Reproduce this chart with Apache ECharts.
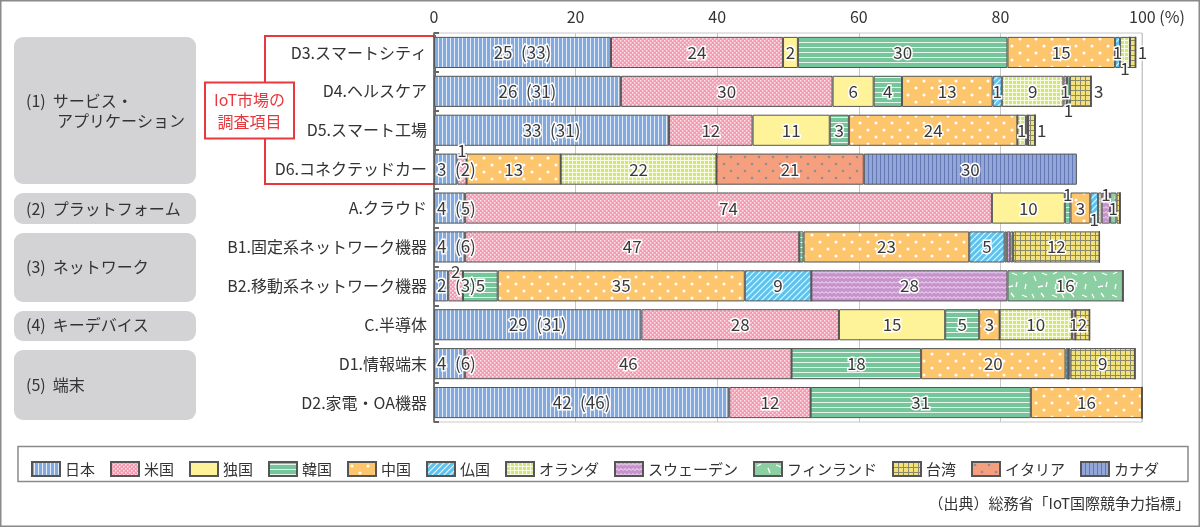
<!DOCTYPE html>
<html><head><meta charset="utf-8">
<script src="https://cdn.jsdelivr.net/npm/echarts@6/dist/echarts.min.js"></script>
<style>html,body{margin:0;padding:0;background:#fff}#c{width:1200px;height:527px}</style>
</head><body><div id="c"></div>
<script>
// ---- data ----
const categories = ['D3.スマートシティ','D4.ヘルスケア','D5.スマート工場','D6.コネクテッドカー','A.クラウド','B1.固定系ネットワーク機器','B2.移動系ネットワーク機器','C.半導体','D1.情報端末','D2.家電・OA機器'];
const japan       = [25.0, 26.4, 33.2, 3.3, 4.4, 4.4, 2.0, 29.3, 4.4, 41.7];
const japanPrev   = [33, 31, 31, 2, 5, 6, 3, 31, 6, 46];
const usa         = [24.3, 29.9, 11.8, 1.3, 74.4, 47.2, 2.1, 27.9, 46.1, 11.5];
const germany     = [2.1, 5.8, 10.9, 0, 10.3, 0, 0, 15.0, 0, 0];
const korea       = [29.6, 4.0, 2.7, 0, 0.8, 0.6, 4.9, 4.8, 18.3, 31.1];
const china       = [15.2, 12.8, 23.8, 13.3, 2.8, 23.4, 34.9, 2.9, 20.4, 15.7];
const france      = [0.7, 1.3, 0, 0, 1.1, 5.0, 9.4, 0, 0.4, 0];
const netherlands = [1.4, 8.7, 1.2, 22.0, 0.5, 0.3, 0, 10.2, 0, 0];
const sweden      = [0, 0.5, 0.3, 0, 1.2, 0.5, 27.7, 0.5, 0, 0];
const finland     = [0, 0.4, 0, 0, 0.9, 0.4, 16.3, 0, 0.3, 0];
const taiwan      = [0.8, 3.0, 1.0, 0, 0.5, 12.2, 0, 2.0, 9.1, 0];
const italy       = [0, 0, 0, 20.8, 0, 0, 0, 0, 0, 0];
const canada      = [0, 0, 0, 30.1, 0, 0, 0, 0, 0, 0];
const seriesNames = ['日本','米国','独国','韓国','中国','仏国','オランダ','スウェーデン','フィンランド','台湾','イタリア','カナダ'];
const xTicks = [0, 20, 40, 60, 80, 100];

// ---- patterns ----
function pat(w, h, bg, draw) {
  const c = document.createElement('canvas'); c.width = w; c.height = h;
  const g = c.getContext('2d'); g.fillStyle = bg; g.fillRect(0, 0, w, h);
  if (draw) draw(g);
  return { image: c, repeat: 'repeat' };
}
const patterns = [
  pat(4, 4, '#82aadf', g => { g.fillStyle = '#e3ecf8'; g.fillRect(2, 0, 1, 4); }),
  pat(4, 4, '#f59ab1', g => { g.fillStyle = '#fde3ea'; g.fillRect(0, 0, 1.5, 1.5); g.fillRect(2, 2, 1.5, 1.5); }),
  '#fff39a',
  pat(5, 5, '#76c69c', g => { g.fillStyle = '#e6f5ec'; g.fillRect(0, 2, 5, 1); }),
  pat(16, 14, '#fdc66c', g => { g.fillStyle = '#ffffff'; g.beginPath(); g.arc(4, 4, 1.5, 0, 7); g.fill(); g.beginPath(); g.arc(12, 11, 1.5, 0, 7); g.fill(); }),
  pat(6, 6, '#5cc3ee', g => { g.strokeStyle = '#e4f6fd'; g.lineWidth = 1.2; g.beginPath(); g.moveTo(0, 6); g.lineTo(6, 0); g.moveTo(-3, 3); g.lineTo(3, -3); g.moveTo(3, 9); g.lineTo(9, 3); g.stroke(); }),
  pat(4, 4, '#d3e676', g => { g.fillStyle = '#f7fbe3'; g.fillRect(0, 0, 4, 1); g.fillRect(0, 0, 1, 4); }),
  pat(8, 5, '#c693cd', g => { g.strokeStyle = '#f5e8f6'; g.lineWidth = 1; g.beginPath(); g.moveTo(0, 3.5); g.lineTo(2, 1.5); g.lineTo(4, 3.5); g.lineTo(6, 1.5); g.lineTo(8, 3.5); g.stroke(); }),
  pat(30, 30, '#8ccfa3', g => { g.strokeStyle = '#ffffff'; g.lineWidth = 1.3; g.beginPath();
    [[3,4,7,2],[14,6,16,11],[22,3,27,5],[6,14,5,19],[18,17,23,16],[27,12,26,17],[2,25,7,27],[12,24,14,28],[21,23,24,27]].forEach(s => { g.moveTo(s[0], s[1]); g.lineTo(s[2], s[3]); });
    g.stroke(); }),
  pat(5, 5, '#f3e27a', g => { g.fillStyle = '#8b8a6c'; g.fillRect(0, 0, 5, 1); g.fillRect(0, 0, 1, 5); }),
  pat(14, 14, '#f59f7e', g => { g.fillStyle = '#8e8f93'; g.beginPath(); g.arc(3, 3, 1.3, 0, 7); g.fill(); g.beginPath(); g.arc(10, 10, 1.3, 0, 7); g.fill(); }),
  pat(4, 4, '#93a6d8', g => { g.fillStyle = '#6479b3'; g.fillRect(0, 0, 1, 4); })
];
const values = [japan, usa, germany, korea, china, france, netherlands, sweden, finland, taiwan, italy, canada];

// label overrides: [seriesIndex, catIndex] -> position / distance
const labelOverrides = {
  '1|3': { position: 'top', distance: -5 },
  '1|6': { position: 'top', distance: -10 },
  '5|0': { position: 'inside' },
  '6|0': { position: 'bottom', distance: -8 },
  '9|0': { position: 'right', distance: 2 },
  '5|1': { position: 'inside' },
  '7|1': { position: 'inside' },
  '8|1': { position: 'bottom', distance: -5 },
  '9|1': { position: 'right', distance: 3 },
  '6|2': { position: 'inside' },
  '9|2': { position: 'right', distance: 2 },
  '3|4': { position: 'top', distance: -11 },
  '5|4': { position: 'bottom', distance: -13 },
  '7|4': { position: 'top', distance: -11 },
  '8|4': { position: 'inside' },
  '7|7': { position: 'inside' }
};
const labelBase = { color: '#3a3a3a', fontSize: 17, fontFamily: 'Noto Sans CJK JP', textBorderColor: '#fff', textBorderWidth: 3 };

const series = seriesNames.map((name, si) => ({
  name, type: 'bar', stack: 'total', barWidth: '80%',
  itemStyle: { color: patterns[si], borderColor: '#555', borderWidth: 1 },
  emphasis: { disabled: true },
  data: values[si].map((v, ci) => {
    const key = si + '|' + ci;
    let label = { show: false };
    if (si === 0) {
      const small = v < 10;
      label = Object.assign({}, labelBase, { show: true, position: small ? 'insideLeft' : 'inside', distance: 3,
        formatter: Math.round(v) + '\u2002(' + japanPrev[ci] + ')' });
    } else if (labelOverrides[key]) {
      label = Object.assign({}, labelBase, { show: true, formatter: String(Math.max(1, Math.round(v))) }, labelOverrides[key]);
    } else if (v >= 1.5) {
      label = Object.assign({}, labelBase, { show: true, position: 'inside', formatter: String(Math.round(v)) });
    }
    return { value: v, label };
  })
}));

const txt = (x, y, s, extra) => ({ type: 'text', x, y, style: Object.assign({ text: s, fill: '#333', fontSize: 16, fontFamily: 'Noto Sans CJK JP', textVerticalAlign: 'middle' }, extra || {}) });
const box = (x, y, w, h) => ({ type: 'rect', shape: { x, y, width: w, height: h, r: 9 }, style: { fill: '#d3d3d5' } });

const chart = echarts.init(document.getElementById('c'));
chart.setOption({
  animation: false,
  backgroundColor: '#fff',
  grid: { left: 434, right: 58, top: 33, bottom: 105, show: true, borderColor: '#c8c8c8', borderWidth: 1 },
  xAxis: {
    type: 'value', position: 'top', min: 0, max: 100, interval: 20,
    axisLine: { show: false }, axisTick: { show: false },
    splitLine: { lineStyle: { color: '#c8c8c8', width: 1 } },
    axisLabel: { color: '#333', fontSize: 16, fontFamily: 'Noto Sans CJK JP', margin: 8,
      formatter: v => v === 100 ? '{p|' + xTicks[5] + ' (%)}' : String(v),
      rich: { p: { fontSize: 16, color: '#333', fontFamily: 'Noto Sans CJK JP', padding: [0, 0, 0, 30] } } }
  },
  yAxis: {
    type: 'category', data: categories, inverse: true,
    axisLine: { show: true, lineStyle: { color: '#555', width: 1.5 } },
    axisTick: { show: true, inside: true, length: 5, lineStyle: { color: '#666', width: 2 } },
    axisLabel: { color: '#333', fontSize: 16, fontFamily: 'Noto Sans CJK JP', margin: 7 }
  },
  legend: {
    data: seriesNames, left: 26, top: 456, icon: 'rect', itemWidth: 28, itemHeight: 14, itemGap: 15,
    textStyle: { color: '#333', fontSize: 15, fontFamily: 'Noto Sans CJK JP' }, selectedMode: false
  },
  series,
  graphic: [
    { type: 'rect', shape: { x: 0.75, y: 0.75, width: 1198.5, height: 525.5 }, style: { fill: 'none', stroke: '#8a8a8a', lineWidth: 1.5 } },
    box(14, 37, 182, 147), box(14, 193, 182, 31), box(14, 233, 182, 69), box(14, 311, 182, 30), box(14, 350, 182, 70),
    txt(26, 101, '(1)  サービス・'), txt(57, 121, 'アプリケーション'),
    txt(26, 209, '(2)  プラットフォーム'),
    txt(26, 267, '(3)  ネットワーク'),
    txt(26, 325, '(4)  キーデバイス'),
    txt(26, 385, '(5)  端末'),
    { type: 'rect', shape: { x: 265, y: 36, width: 170, height: 148 }, style: { fill: 'none', stroke: '#e8383d', lineWidth: 2 } },
    { type: 'rect', shape: { x: 205, y: 82.5, width: 89, height: 56 }, style: { fill: '#fff', stroke: '#e8383d', lineWidth: 2 } },
    txt(249.5, 100, 'IoT市場の', { fill: '#e8383d', textAlign: 'center' }),
    txt(249.5, 122, '調査項目', { fill: '#e8383d', textAlign: 'center' }),
    { type: 'rect', shape: { x: 18, y: 446.5, width: 1170, height: 35 }, style: { fill: 'none', stroke: '#8a8a8a', lineWidth: 1.5 } },
    txt(1190, 503, '（出典）総務省「IoT国際競争力指標」', { textAlign: 'right', fontSize: 15 })
  ]
});
</script></body></html>
